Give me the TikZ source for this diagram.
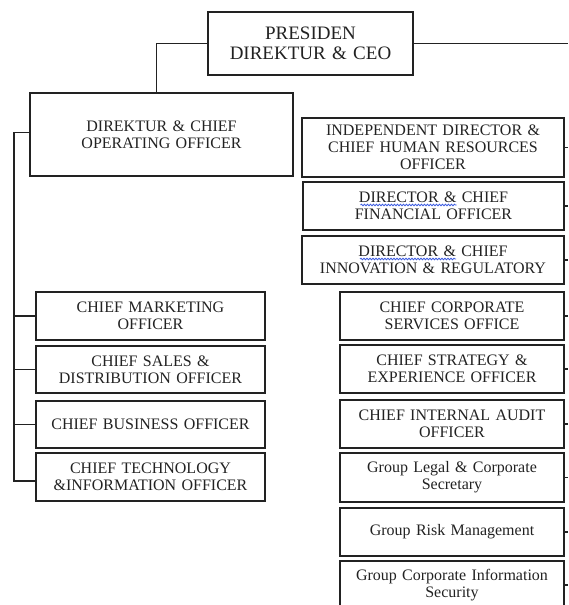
\documentclass[tikz,border=0pt]{standalone}
\usepackage{fontspec}
\setmainfont{Liberation Serif}
\usetikzlibrary{calc,decorations.pathmorphing}

\definecolor{ink}{HTML}{222222}
\definecolor{spell}{HTML}{3A5AE0}

\tikzset{
  orgbox/.style={draw=ink, line width=1.3pt, text=ink, inner sep=0pt, outer sep=0pt,
    anchor=north west, align=center, font=\fontsize{16}{17}\selectfont},
  link/.style={draw=ink, line width=1.1pt},
  spellmark/.style={draw=spell, line width=0.8pt, decorate,
    decoration={snake, segment length=3pt, amplitude=0.8pt}},
}

\begin{document}
\begin{tikzpicture}[x=1pt, y=-1pt]
  \useasboundingbox (0,0) rectangle (568,605);
  \clip (0,0) rectangle (568,605);
  \coordinate (rbus) at (568,0);
  \coordinate (lbus) at (14,0);

  % top level
  \node[orgbox, minimum width=205pt, minimum height=63pt, text width=195pt,
        font=\fontsize{19}{20}\selectfont] (ceo) at (208,12) {PRESIDEN\\DIREKTUR \& CEO};

  % operating branch
  \node[orgbox, minimum width=263pt, minimum height=83pt, text width=250pt] (coo) at (30,93)
    {DIREKTUR \& CHIEF\\OPERATING OFFICER};
  \node[orgbox, minimum width=229pt, minimum height=48pt, text width=220pt] (mkt) at (36,292)
    {CHIEF MARKETING\\OFFICER};
  \node[orgbox, minimum width=229pt, minimum height=47pt, text width=220pt] (sal) at (36,346)
    {CHIEF SALES \&\\DISTRIBUTION OFFICER};
  \node[orgbox, minimum width=229pt, minimum height=47pt, text width=220pt] (bus) at (36,401)
    {CHIEF BUSINESS OFFICER};
  \node[orgbox, minimum width=229pt, minimum height=48pt, text width=220pt] (tec) at (36,453)
    {CHIEF TECHNOLOGY\\\&INFORMATION OFFICER};

  % directors
  \node[orgbox, minimum width=262pt, minimum height=59pt, text width=250pt] (hr) at (302,118)
    {INDEPENDENT DIRECTOR \&\\CHIEF HUMAN RESOURCES\\OFFICER};
  \node[orgbox, minimum width=261pt, minimum height=48pt, text width=250pt] (cfo) at (303,182)
    {DIRECTOR \& CHIEF\\FINANCIAL OFFICER};
  \node[orgbox, minimum width=262pt, minimum height=48pt, text width=252pt] (inn) at (302,236)
    {DIRECTOR \& CHIEF\\INNOVATION \& REGULATORY};

  % spell-check marks under "DIRECTOR &"
  \draw[spellmark] ($(cfo.center)+(-73,-1)$) -- ++(96,0);
  \draw[spellmark] ($(inn.center)+(-73,-1)$) -- ++(96,0);

  % chiefs and groups
  \node[orgbox, minimum width=224pt, minimum height=48pt, text width=215pt] (cso) at (340,292)
    {CHIEF CORPORATE\\SERVICES OFFICE};
  \node[orgbox, minimum width=224pt, minimum height=48pt, text width=215pt] (sto) at (340,345)
    {CHIEF STRATEGY \&\\EXPERIENCE OFFICER};
  \node[orgbox, minimum width=224pt, minimum height=48pt, text width=215pt] (aud) at (340,400)
    {CHIEF INTERNAL AUDIT\\OFFICER};
  \node[orgbox, minimum width=224pt, minimum height=49pt, text width=215pt] (leg) at (340,453)
    {Group Legal \& Corporate\\Secretary};
  \node[orgbox, minimum width=224pt, minimum height=48pt, text width=215pt] (rsk) at (340,508)
    {Group Risk Management};
  \node[orgbox, minimum width=224pt, minimum height=48pt, text width=215pt] (sec) at (340,561)
    {Group Corporate Information\\Security};

  % connectors
  \draw[link] (ceo.west) -| ([xshift=-5pt]coo.north);
  \draw[link] (ceo.east) -- (ceo.east -| rbus);
  \draw[link] ([yshift=2pt]coo.west) -- ([yshift=2pt]coo.west -| lbus) |- ([yshift=-4pt]tec.west);
  \draw[link] (mkt.west -| lbus) -- (mkt.west);
  \draw[link] (sal.west -| lbus) -- (sal.west);
  \draw[link] (bus.west -| lbus) -- (bus.west);
  \foreach \n in {hr,cfo,inn,cso,sto,aud,leg,rsk,sec}
    \draw[link] (\n.east) -- (\n.east -| rbus);
\end{tikzpicture}
\end{document}
